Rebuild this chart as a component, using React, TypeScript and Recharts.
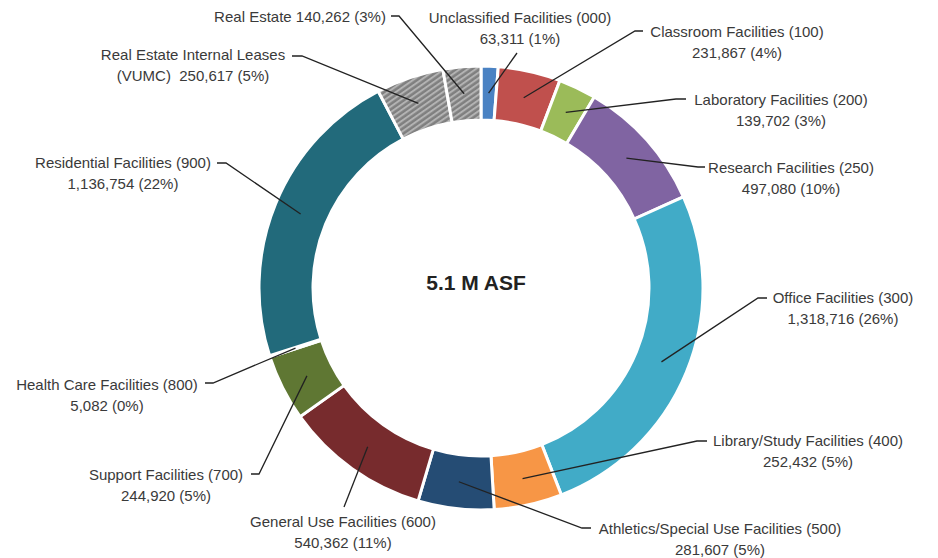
import { PieChart, Pie, Cell } from 'recharts';

document.body.style.margin = '0';

const categories = [
  'Unclassified Facilities (000)',
  'Classroom Facilities (100)',
  'Laboratory Facilities (200)',
  'Research Facilities (250)',
  'Office Facilities (300)',
  'Library/Study Facilities (400)',
  'Athletics/Special Use Facilities (500)',
  'General Use Facilities (600)',
  'Support Facilities (700)',
  'Health Care Facilities (800)',
  'Residential Facilities (900)',
  'Real Estate Internal Leases',
  'Real Estate',
];

const values = [
  63311, 231867, 139702, 497080, 1318716, 252432, 281607, 540362, 244920, 5082,
  1136754, 250617, 140262,
];

const percents = [1, 4, 3, 10, 26, 5, 5, 11, 5, 0, 22, 5, 3];

const colors = [
  '#4a82c3',
  '#c0504d',
  '#9bbb59',
  '#8064a2',
  '#41abc7',
  '#f79646',
  '#254c74',
  '#772b2d',
  '#5f7733',
  '#9fb6cf',
  '#226a7b',
  'url(#hatch)',
  'url(#hatch)',
];

const centerLabel = '5.1 M ASF';

// label block centre, first-line y, and leader path (from slice outward)
const labelLayout = [
  { x: 520, y: 17, path: [[517, 53]] },
  { x: 737, y: 31, path: [[635, 31], [643, 31]] },
  { x: 781, y: 99, path: [[676, 99], [686, 99]] },
  { x: 791, y: 167, path: [[698, 167], [705, 167]] },
  { x: 843, y: 297, path: [[758, 298], [767, 298]] },
  { x: 808, y: 440, path: [[697, 441], [707, 441]] },
  { x: 720, y: 528, path: [[582, 528], [591, 528]] },
  { x: 343, y: 521, path: [[344, 507]] },
  { x: 166, y: 474, path: [[259, 474], [251, 474]] },
  { x: 107, y: 384, path: [[213, 383], [205, 383]] },
  { x: 123, y: 162, path: [[226, 163], [217, 163]] },
  { x: 193, y: 54, path: [[302, 56], [292, 56]] },
  { x: 300, y: 16, path: [[399, 16], [391, 16]] },
];

const data = categories.map((name, i) => ({
  name,
  value: values[i],
  pct: percents[i],
}));

const RAD = Math.PI / 180;

function labelLines(i: number): string[] {
  const v = values[i].toLocaleString('en-US');
  const p = `(${percents[i]}%)`;
  if (i === 12) return [`${categories[i]} ${v} ${p}`];
  if (i === 11) return [categories[i], `(VUMC)\u00a0 ${v} ${p}`];
  return [categories[i], `${v} ${p}`];
}

function renderLabel(props: any) {
  const { cx, cy, midAngle, innerRadius, outerRadius, index } = props;
  const r = (innerRadius + outerRadius) / 2;
  const px = cx + r * Math.cos(-midAngle * RAD);
  const py = cy + r * Math.sin(-midAngle * RAD);
  const lay = labelLayout[index];
  const pts = [[px, py], ...lay.path].map((p) => p.join(',')).join(' ');
  const lines = labelLines(index);
  return (
    <g key={`lbl-${index}`}>
      <polyline points={pts} fill="none" stroke="#222" strokeWidth={1.3} />
      {lines.map((t, j) => (
        <text
          key={j}
          x={lay.x}
          y={lay.y + j * 21}
          textAnchor="middle"
          dominantBaseline="central"
          fontSize={15}
          fill="#3a3a3a"
          fontFamily="'Liberation Sans', Arial, sans-serif"
        >
          {t}
        </text>
      ))}
    </g>
  );
}

export default function App() {
  return (
    <div style={{ position: 'relative', width: 938, height: 558, background: '#fff' }}>
      <svg width={0} height={0} style={{ position: 'absolute' }}>
        <defs>
          <pattern
            id="hatch"
            patternUnits="userSpaceOnUse"
            width={4.5}
            height={4.5}
            patternTransform="rotate(-35)"
          >
            <rect width={4.5} height={4.5} fill="#7f7f7f" />
            <rect width={4.5} height={2} fill="#b3b3b3" />
          </pattern>
        </defs>
      </svg>
      <PieChart width={938} height={558}>
        <Pie
          data={data}
          dataKey="value"
          nameKey="name"
          cx={476}
          cy={283}
          innerRadius={168}
          outerRadius={222}
          startAngle={90}
          endAngle={-270}
          stroke="#fff"
          strokeWidth={3}
          label={renderLabel}
          labelLine={false}
          isAnimationActive={false}
        >
          {data.map((d, i) => (
            <Cell key={d.name} fill={colors[i]} />
          ))}
        </Pie>
        <text
          x={476}
          y={282}
          textAnchor="middle"
          dominantBaseline="central"
          fontSize={21}
          fontWeight="bold"
          fill="#222"
          fontFamily="'Liberation Sans', Arial, sans-serif"
        >
          {centerLabel}
        </text>
      </PieChart>
    </div>
  );
}
